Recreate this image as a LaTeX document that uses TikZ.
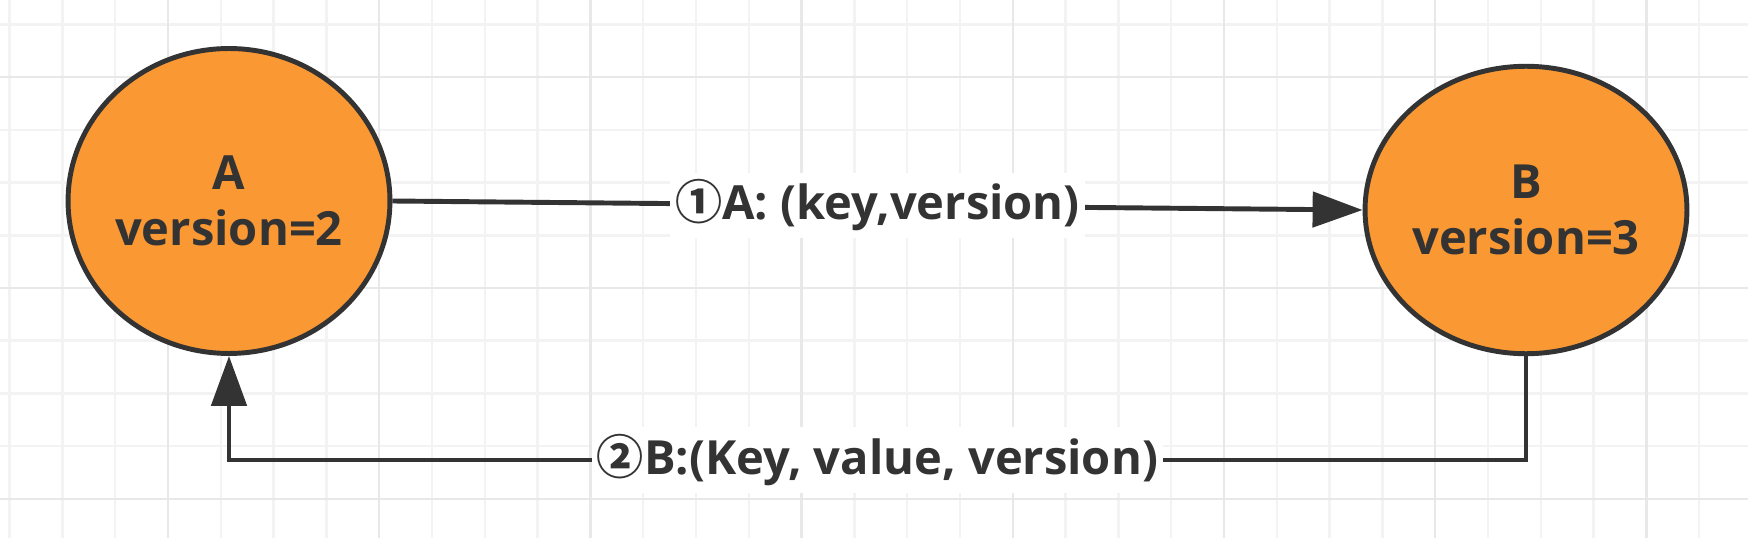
\documentclass[tikz,border=0pt]{standalone}
\usepackage{fontspec}
\setmainfont{Open Sans}
\newfontfamily\cjk{Noto Sans CJK SC}
\usetikzlibrary{arrows.meta,shapes.geometric}
\definecolor{ink}{HTML}{333333}
\definecolor{peerfill}{RGB}{250,152,51}
\definecolor{gridminor}{HTML}{F3F3F3}
\definecolor{gridmajor}{HTML}{E8E8E8}

\begin{document}
\begin{tikzpicture}[x=0.02cm,y=0.02cm,font=\fontsize{26.8}{32}\selectfont\bfseries,
  peer/.style={ellipse,draw=ink,fill=peerfill,line width=2.8pt,inner sep=0pt,align=center,text=ink},
  msg/.style={fill=white,inner xsep=3pt,inner ysep=4pt,text=ink},
  conn/.style={draw=ink,line width=2.8pt,-{Triangle[length=1cm,width=0.7cm]}}]
\useasboundingbox (0,0) rectangle (1748,538);
\fill[white] (0,0) rectangle (1748,538);
% grid
\foreach \k in {0,...,32} \draw[gridminor,line width=1.4pt] (9.6+52.8*\k,0)--(9.6+52.8*\k,538);
\foreach \k in {0,...,9} \draw[gridminor,line width=1.4pt] (0,513.5-52.7*\k)--(1748,513.5-52.7*\k);
\foreach \k in {3,7,...,31} \draw[gridmajor,line width=1.4pt] (9.6+52.8*\k,0)--(9.6+52.8*\k,538);
\foreach \k in {1,5,9} \draw[gridmajor,line width=1.4pt] (0,513.5-52.7*\k)--(1748,513.5-52.7*\k);
% peers
\node[peer,minimum width=6.3cm,minimum height=6.1cm] (A) at (229,337) {A\\version=2};
\node[peer,minimum width=6.22cm,minimum height=5.75cm] (B) at (1526,328) {B\\version=3};
% messages
\draw[conn] (A.east) -- node[msg]{{\cjk ①}A: (key,version)} (B.west);
\draw[conn] (B.south) -- (B.south |- 0,78) -| node[msg,pos=0.25]{{\cjk ②}B:(Key, value, version)} (A.south);
\end{tikzpicture}
\end{document}
